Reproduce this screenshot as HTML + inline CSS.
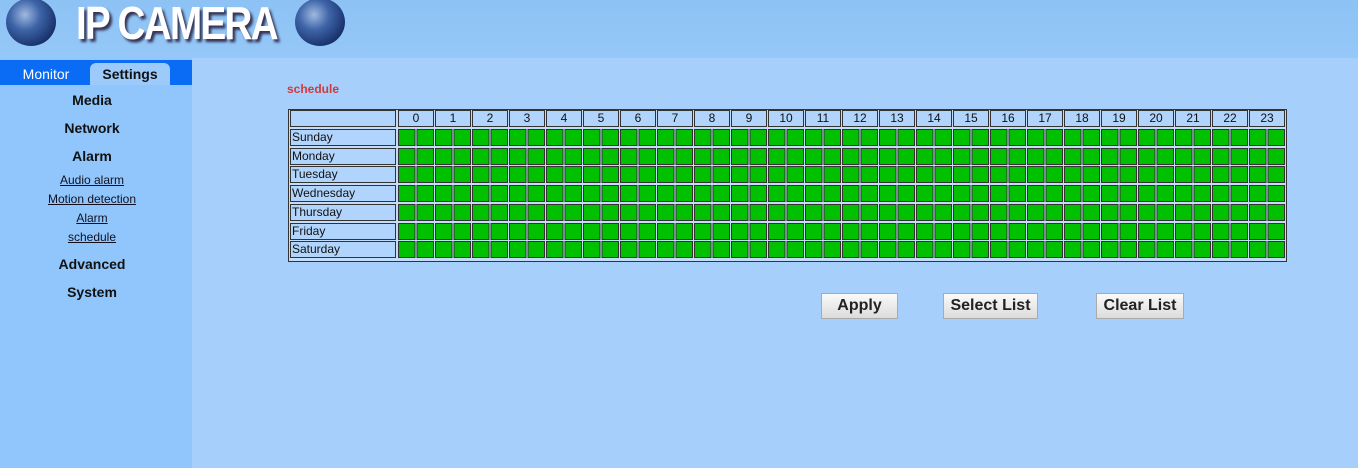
<!DOCTYPE html>
<html><head><meta charset="utf-8"><style>
*{margin:0;padding:0;box-sizing:border-box}
body{width:1358px;height:468px;overflow:hidden;background:#a6d0fb;font-family:"Liberation Sans",Arial,sans-serif;position:relative}
.hdr{position:absolute;left:0;top:0;width:1358px;height:58px;background:linear-gradient(#8dc2f5,#95c8f8)}
.globe{position:absolute;width:50px;height:48px;border-radius:50%;background:radial-gradient(circle at 38% 35%,#9fb9e0 0,#3e64a8 35%,#17306a 75%,#0b1838 100%)}
.title{position:absolute;left:76px;top:-4px;font-size:46px;font-weight:bold;color:#fff;letter-spacing:-2px;transform:scaleX(0.84);transform-origin:left;text-shadow:3px 3px 3px #335;font-family:"Liberation Sans Narrow","Liberation Sans",sans-serif}
.side{position:absolute;left:0;top:58px;width:192px;height:410px;background:#90c6fb}
.tabs{position:absolute;left:0;top:60px;width:192px;height:25px;background:#0a6cf5}
.tab{position:absolute;top:63px;height:22px;font-size:14px;text-align:center;line-height:22px}
.m{position:absolute;left:0;width:184px;text-align:center;font-size:14px;font-weight:bold;color:#111}
.s{position:absolute;left:0;width:184px;text-align:center;font-size:12px;color:#112;text-decoration:underline}
.tbl{position:absolute;left:288px;top:109px;width:999px;height:153px;border:1px solid #333;background:#c4dcf8}
.nm{position:absolute;left:290px;width:106px;height:17px;border:1px solid #333;background:#b0d4fb;font-size:12px;line-height:15px;padding-left:1px;color:#111}
.hr{position:absolute;top:110px;height:17px;width:36px;border:1px solid #333;background:#b0d4fb;font-size:12px;text-align:center;line-height:15px;color:#111}
.row{position:absolute;left:397px;width:888px;height:17px;background:linear-gradient(to right,#c4dcf8 0 1px,#333 1px 2px,#00c000 2px 17.5px,#333 17.5px 18.5px);background-size:18.5px 100%;}
.row::before,.row::after{content:"";position:absolute;left:0;right:0;height:1px;background:repeating-linear-gradient(to right,#c4dcf8 0 1px,#333 1px 18.5px)}
.row::before{top:0}.row::after{bottom:0}
.btn{position:absolute;top:293px;height:26px;border:1px solid #aaa;background:linear-gradient(#fafafa,#dcdcdc);font-size:16px;font-weight:bold;color:#222;text-align:center;line-height:24px}
</style></head><body>
<div class="hdr"></div>
<div class="globe" style="left:6px;top:-2px"></div>
<div class="title">IP CAMERA</div>
<div class="globe" style="left:295px;top:-2px"></div>
<div class="side"></div>
<div class="tabs"></div>
<div class="tab" style="left:8px;width:76px;color:#fff">Monitor</div>
<div class="tab" style="left:90px;width:80px;background:#9ccbfb;border-radius:6px 6px 0 0;font-weight:bold;color:#111">Settings</div>
<div class="m" style="top:92px">Media</div>
<div class="m" style="top:120px">Network</div>
<div class="m" style="top:148px">Alarm</div>
<div class="s" style="top:173px">Audio alarm</div>
<div class="s" style="top:192px">Motion detection</div>
<div class="s" style="top:211px">Alarm</div>
<div class="s" style="top:230px">schedule</div>
<div class="m" style="top:256px">Advanced</div>
<div class="m" style="top:284px">System</div>
<div style="position:absolute;left:287px;top:82px;font-size:12px;font-weight:bold;color:#d0393c">schedule</div>
<div class="tbl"></div>
<div class="nm" style="top:110px"></div>
<div class="nm" style="top:129px">Sunday</div>
<div class="nm" style="top:147.5px">Monday</div>
<div class="nm" style="top:166px">Tuesday</div>
<div class="nm" style="top:185px">Wednesday</div>
<div class="nm" style="top:204px">Thursday</div>
<div class="nm" style="top:222.5px">Friday</div>
<div class="nm" style="top:241px">Saturday</div>
<div class="hr" style="left:398px">0</div><div class="hr" style="left:435px">1</div><div class="hr" style="left:472px">2</div><div class="hr" style="left:509px">3</div><div class="hr" style="left:546px">4</div><div class="hr" style="left:583px">5</div><div class="hr" style="left:620px">6</div><div class="hr" style="left:657px">7</div><div class="hr" style="left:694px">8</div><div class="hr" style="left:731px">9</div><div class="hr" style="left:768px">10</div><div class="hr" style="left:805px">11</div><div class="hr" style="left:842px">12</div><div class="hr" style="left:879px">13</div><div class="hr" style="left:916px">14</div><div class="hr" style="left:953px">15</div><div class="hr" style="left:990px">16</div><div class="hr" style="left:1027px">17</div><div class="hr" style="left:1064px">18</div><div class="hr" style="left:1101px">19</div><div class="hr" style="left:1138px">20</div><div class="hr" style="left:1175px">21</div><div class="hr" style="left:1212px">22</div><div class="hr" style="left:1249px">23</div>
<div class="row" style="top:129px"></div>
<div class="row" style="top:147.5px"></div>
<div class="row" style="top:166px"></div>
<div class="row" style="top:185px"></div>
<div class="row" style="top:204px"></div>
<div class="row" style="top:222.5px"></div>
<div class="row" style="top:241px"></div>
<div class="btn" style="left:821px;width:77px">Apply</div>
<div class="btn" style="left:943px;width:95px">Select List</div>
<div class="btn" style="left:1096px;width:88px">Clear List</div>
</body></html>
